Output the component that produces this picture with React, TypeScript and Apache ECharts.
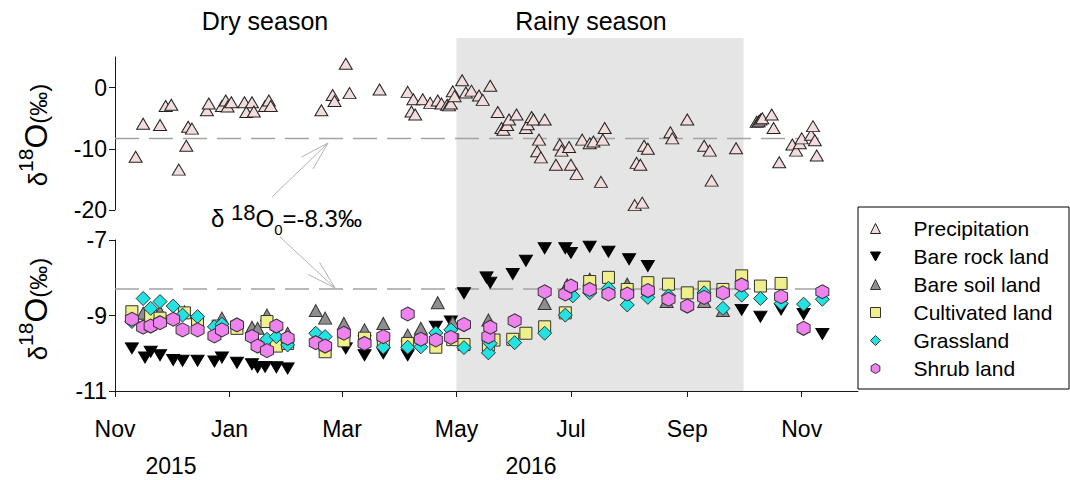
import { useEffect, useRef } from "react";
import * as echarts from "echarts";

const FONT = '"Liberation Sans", Arial, Helvetica, sans-serif';
const INK = "#1a1a1a";

type Obs = [string, number];

// δ18O of rainfall (‰)
const precipitation: Obs[] = [
  ["2015-11-12", -11.3], ["2015-11-16", -5.9], ["2015-11-25", -6.1], ["2015-11-28", -3.0],
  ["2015-12-01", -2.8], ["2015-12-05", -13.4], ["2015-12-09", -9.5], ["2015-12-10", -6.4],
  ["2015-12-12", -6.7], ["2015-12-20", -3.7], ["2015-12-21", -2.6], ["2015-12-28", -3.0],
  ["2015-12-30", -2.1], ["2015-12-31", -3.1], ["2016-01-02", -2.4], ["2016-01-09", -2.4],
  ["2016-01-10", -4.0], ["2016-01-13", -2.4], ["2016-01-14", -3.9], ["2016-01-20", -3.0],
  ["2016-01-22", -2.1], ["2016-01-23", -3.0], ["2016-02-19", -3.7], ["2016-02-25", -1.2],
  ["2016-02-26", -2.2], ["2016-03-03", 3.9], ["2016-03-05", -0.9], ["2016-03-21", -0.3],
  ["2016-04-05", -0.7], ["2016-04-07", -3.9], ["2016-04-08", -1.9], ["2016-04-09", -4.4],
  ["2016-04-13", -1.9], ["2016-04-17", -2.5], ["2016-04-21", -2.1], ["2016-04-23", -2.6],
  ["2016-04-26", -2.8], ["2016-04-27", -2.9], ["2016-04-28", -2.6], ["2016-04-29", -0.6],
  ["2016-04-30", -1.4], ["2016-05-04", 1.2], ["2016-05-06", -0.8], ["2016-05-09", -0.5],
  ["2016-05-13", -1.3], ["2016-05-15", -2.0], ["2016-05-19", 0.3], ["2016-05-23", -4.0],
  ["2016-05-25", -6.6], ["2016-05-26", -6.9], ["2016-05-28", -6.1], ["2016-05-29", -5.2],
  ["2016-06-02", -4.4], ["2016-06-07", -6.6], ["2016-06-08", -6.0], ["2016-06-10", -4.8],
  ["2016-06-11", -5.2], ["2016-06-13", -10.4], ["2016-06-14", -8.5], ["2016-06-15", -11.4],
  ["2016-06-17", -5.2], ["2016-06-23", -12.6], ["2016-06-25", -9.3], ["2016-06-26", -10.3],
  ["2016-06-30", -9.7], ["2016-07-01", -12.6], ["2016-07-04", -14.1], ["2016-07-07", -8.5],
  ["2016-07-11", -9.1], ["2016-07-13", -8.8], ["2016-07-17", -15.4], ["2016-07-18", -8.5],
  ["2016-07-19", -6.6], ["2016-08-04", -19.2], ["2016-08-05", -12.3], ["2016-08-07", -12.6],
  ["2016-08-08", -18.8], ["2016-08-09", -9.5], ["2016-08-11", -10.0], ["2016-08-23", -7.3],
  ["2016-08-24", -8.3], ["2016-09-01", -5.2], ["2016-09-10", -9.5], ["2016-09-13", -10.3],
  ["2016-09-14", -15.2], ["2016-09-27", -9.9], ["2016-10-08", -5.6], ["2016-10-09", -5.5],
  ["2016-10-10", -5.2], ["2016-10-11", -5.0], ["2016-10-16", -4.4], ["2016-10-17", -6.6],
  ["2016-10-20", -12.2], ["2016-10-27", -9.3], ["2016-10-29", -10.3], ["2016-10-31", -9.1],
  ["2016-11-01", -8.3], ["2016-11-06", -7.7], ["2016-11-07", -6.3], ["2016-11-08", -8.6],
  ["2016-11-09", -11.1],
];

// δ18O of soil water by land-use type (‰)
const bareRockLand: Obs[] = [
  ["2015-11-10", -9.87], ["2015-11-17", -10.11], ["2015-11-20", -9.96], ["2015-11-25", -10.05],
  ["2015-12-02", -10.18], ["2015-12-07", -10.2], ["2015-12-15", -10.2], ["2015-12-24", -10.22],
  ["2015-12-28", -10.11], ["2016-01-05", -10.25], ["2016-01-13", -10.29], ["2016-01-16", -10.37],
  ["2016-01-20", -10.36], ["2016-01-26", -10.37], ["2016-02-01", -10.4], ["2016-03-03", -9.87],
  ["2016-03-13", -10.05], ["2016-03-23", -10.0], ["2016-04-05", -10.05], ["2016-04-20", -9.3],
  ["2016-04-28", -9.16], ["2016-05-05", -8.41], ["2016-05-17", -7.99], ["2016-05-19", -8.13],
  ["2016-05-31", -7.9], ["2016-06-07", -7.55], ["2016-06-17", -7.22], ["2016-06-28", -7.22],
  ["2016-07-01", -7.34], ["2016-07-11", -7.18], ["2016-07-21", -7.31], ["2016-08-01", -7.51],
  ["2016-08-11", -7.69], ["2016-09-30", -8.85], ["2016-10-10", -9.03], ["2016-10-21", -8.84],
  ["2016-11-02", -8.96], ["2016-11-12", -9.49],
];

const bareSoilLand: Obs[] = [
  ["2015-11-16", -8.94], ["2015-11-25", -8.9], ["2015-12-08", -8.9], ["2015-12-28", -9.07],
  ["2016-01-13", -9.31], ["2016-01-16", -9.34], ["2016-01-21", -8.99], ["2016-02-01", -9.47],
  ["2016-02-16", -8.87], ["2016-02-21", -9.07], ["2016-03-02", -9.21], ["2016-03-13", -9.38],
  ["2016-03-23", -9.21], ["2016-04-05", -9.52], ["2016-04-12", -9.34], ["2016-04-21", -8.66],
  ["2016-04-29", -9.18], ["2016-05-18", -9.12], ["2016-06-17", -8.68], ["2016-06-29", -8.19],
  ["2016-07-11", -8.04], ["2016-07-21", -8.24], ["2016-07-31", -8.17], ["2016-08-21", -8.63],
  ["2016-09-10", -8.63], ["2016-09-20", -8.87],
];

const cultivatedLand: Obs[] = [
  ["2015-11-10", -8.9], ["2015-11-20", -9.01], ["2015-11-25", -9.07], ["2015-12-08", -8.93],
  ["2015-12-15", -9.16], ["2015-12-26", -9.28], ["2016-01-05", -9.34], ["2016-01-21", -9.16],
  ["2016-01-26", -9.81], ["2016-02-01", -9.74], ["2016-02-21", -9.96], ["2016-03-02", -9.67],
  ["2016-03-13", -9.6], ["2016-03-23", -9.69], ["2016-04-05", -9.74], ["2016-04-20", -9.84],
  ["2016-04-29", -9.64], ["2016-05-05", -9.77], ["2016-05-18", -9.78], ["2016-05-21", -9.65],
  ["2016-05-31", -9.63], ["2016-06-07", -9.47], ["2016-06-17", -9.3], ["2016-06-28", -8.93],
  ["2016-07-11", -8.1], ["2016-07-21", -7.99], ["2016-07-31", -8.31], ["2016-08-11", -8.13],
  ["2016-08-22", -8.17], ["2016-09-01", -8.4], ["2016-09-10", -8.25], ["2016-09-20", -8.31],
  ["2016-09-30", -7.95], ["2016-10-10", -8.22], ["2016-10-21", -8.15],
];

const grassland: Obs[] = [
  ["2015-11-10", -9.16], ["2015-11-16", -8.55], ["2015-11-20", -8.81], ["2015-11-25", -8.63],
  ["2015-12-02", -8.75], ["2015-12-07", -8.99], ["2015-12-15", -9.03], ["2015-12-24", -9.3],
  ["2015-12-28", -9.23], ["2016-01-21", -9.63], ["2016-01-26", -9.56], ["2016-02-01", -9.78],
  ["2016-02-16", -9.47], ["2016-02-21", -9.56], ["2016-03-23", -9.84], ["2016-04-05", -9.84],
  ["2016-04-12", -9.83], ["2016-04-20", -9.46], ["2016-04-28", -9.38], ["2016-05-05", -9.85],
  ["2016-05-18", -9.99], ["2016-05-19", -9.74], ["2016-06-01", -9.72], ["2016-06-17", -9.47],
  ["2016-06-28", -8.99], ["2016-07-02", -8.48], ["2016-07-11", -8.4], ["2016-07-21", -8.28],
  ["2016-07-31", -8.72], ["2016-08-11", -8.52], ["2016-08-22", -8.48], ["2016-09-10", -8.4],
  ["2016-09-20", -8.81], ["2016-09-30", -8.46], ["2016-10-10", -8.55], ["2016-10-21", -8.68],
  ["2016-11-02", -8.7], ["2016-11-12", -8.57],
];

const shrubLand: Obs[] = [
  ["2015-11-10", -9.1], ["2015-11-16", -9.31], ["2015-11-20", -9.28], ["2015-11-25", -9.19],
  ["2015-12-02", -9.1], ["2015-12-07", -9.38], ["2015-12-15", -9.38], ["2015-12-24", -9.54],
  ["2015-12-28", -9.38], ["2016-01-05", -9.25], ["2016-01-13", -9.56], ["2016-01-16", -9.81],
  ["2016-01-21", -9.93], ["2016-01-26", -9.28], ["2016-02-01", -9.6], ["2016-02-16", -9.72],
  ["2016-02-21", -9.81], ["2016-03-02", -9.47], ["2016-03-13", -9.74], ["2016-03-23", -9.56],
  ["2016-04-05", -8.96], ["2016-04-12", -9.63], ["2016-04-20", -9.65], ["2016-04-28", -9.58],
  ["2016-05-05", -9.24], ["2016-05-18", -9.56], ["2016-05-19", -9.31], ["2016-06-01", -9.14],
  ["2016-06-17", -8.37], ["2016-06-28", -8.43], ["2016-07-01", -8.22], ["2016-07-11", -8.31],
  ["2016-07-21", -8.43], ["2016-07-31", -8.43], ["2016-08-11", -8.34], ["2016-08-22", -8.57],
  ["2016-09-01", -8.75], ["2016-09-10", -8.52], ["2016-09-20", -8.4], ["2016-09-30", -8.19],
  ["2016-10-21", -8.5], ["2016-11-02", -9.34], ["2016-11-12", -8.37],
];

// Axis extents, ticks and reference values
const X_START = "2015-11-01";
const X_END = "2016-12-01";
const MONTH_TICKS = ["2015-11-01", "2016-01-01", "2016-03-01", "2016-05-01", "2016-07-01", "2016-09-01", "2016-11-01"];
const MONTH_NAMES = ["Jan", "Feb", "Mar", "Apr", "May", "Jun", "Jul", "Aug", "Sep", "Oct", "Nov", "Dec"];
const YEAR_LABELS = ["2015", "2016"];
const PRECIP_TICKS = [-20, -10, 0];
const SOIL_TICKS = [-11, -9, -7];
const RAINY_START = "2016-05-01";
const RAINY_END = "2016-10-01";
const DELTA0 = -8.3;
const DELTA0_LINE_END = "2016-11-14";

const utc = (s: string) => {
  const [y, m, d] = s.split("-").map(Number);
  return Date.UTC(y, m - 1, d);
};
const toPoints = (rows: Obs[]) => rows.map(([d, v]) => [utc(d), v]);

const DOWN_TRIANGLE = "path://M0,0L10,0L5,9Z";
const HEXAGON = "path://M5,0L9.33,2.5L9.33,7.5L5,10L0.67,7.5L0.67,2.5Z";

const seriesStyles = [
  { name: "Precipitation", rows: precipitation, panel: 0, symbol: "triangle", size: [13, 11], color: "#f3dcdc", border: "#222" },
  { name: "Bare rock land", rows: bareRockLand, panel: 1, symbol: DOWN_TRIANGLE, size: [13, 11], color: "#000000", border: "#000" },
  { name: "Bare soil land", rows: bareSoilLand, panel: 1, symbol: "triangle", size: [13, 12], color: "#8e8e8e", border: "#333" },
  { name: "Cultivated land", rows: cultivatedLand, panel: 1, symbol: "rect", size: [12, 12], color: "#efef8c", border: "#333" },
  { name: "Grassland", rows: grassland, panel: 1, symbol: "diamond", size: [14, 14], color: "#22e2e2", border: "#333" },
  { name: "Shrub land", rows: shrubLand, panel: 1, symbol: HEXAGON, size: [13, 14], color: "#ee82ee", border: "#333" },
];

// Text measuring for the hand-set super/subscript labels
let measureCtx: CanvasRenderingContext2D | null = null;
function textWidth(text: string, size: number) {
  if (!measureCtx) measureCtx = document.createElement("canvas").getContext("2d");
  if (!measureCtx) return text.length * size * 0.55;
  measureCtx.font = `${size}px ${FONT}`;
  return measureCtx.measureText(text).width;
}

type Part = { t: string; size: number; rise?: number };

// A run of text pieces sharing one baseline; rise lifts (or lowers) a piece.
function scriptedText(parts: Part[], x: number, y: number, rotation = 0) {
  const widths = parts.map((p) => textWidth(p.t, p.size));
  let cursor = 0;
  const children = parts.map((p, i) => {
    const child = {
      type: "text",
      x: cursor,
      y: -(p.rise ?? 0) - 0.3465 * p.size,
      silent: true,
      style: { text: p.t, align: "left", verticalAlign: "middle", fill: "#000", font: `${p.size}px ${FONT}` },
    };
    cursor += widths[i];
    return child;
  });
  return { type: "group", x, y, rotation, silent: true, children };
}

function arrow(x1: number, y1: number, x2: number, y2: number) {
  const back = Math.atan2(y1 - y2, x1 - x2);
  const len = 30;
  const spread = 0.28;
  const stroke = { stroke: "#b3b3b3", lineWidth: 1 };
  return [
    { type: "line", shape: { x1, y1, x2, y2 }, style: stroke, silent: true },
    {
      type: "polyline",
      shape: {
        points: [
          [x2 + len * Math.cos(back + spread), y2 + len * Math.sin(back + spread)],
          [x2, y2],
          [x2 + len * Math.cos(back - spread), y2 + len * Math.sin(back - spread)],
        ],
      },
      style: { ...stroke, fill: "none" },
      silent: true,
    },
  ];
}

const Y_TITLE: Part[] = [
  { t: "δ", size: 26 },
  { t: "18", size: 21, rise: 14 },
  { t: "O", size: 32 },
  { t: "(‰)", size: 24 },
];

const DELTA0_LABEL: Part[] = [
  { t: "δ ", size: 24 },
  { t: "18", size: 22, rise: 7 },
  { t: "O", size: 24 },
  { t: "0", size: 15, rise: -8 },
  { t: `=${DELTA0}‰`, size: 24 },
];

function buildOption() {
  const monthTicks = MONTH_TICKS.map(utc);
  const axisLine = { show: true, lineStyle: { color: INK, width: 1 } };
  // Dates are plotted as UTC millisecond timestamps on a numeric axis
  const dateBase = { type: "value", min: utc(X_START), max: utc(X_END), splitLine: { show: false } };
  const valueAxis = (grid: number, min: number, max: number, ticks: number[], interval: number) => ({
    type: "value",
    gridIndex: grid,
    min,
    max,
    interval,
    axisLine,
    axisTick: { show: true, inside: false, length: 6, customValues: ticks, lineStyle: { color: INK } },
    axisLabel: {
      customValues: ticks,
      fontSize: 23,
      margin: 8,
      color: "#000",
      fontFamily: FONT,
      formatter: (v: number) => (ticks.includes(v) ? String(v) : ""),
    },
    splitLine: { show: false },
  });

  const markerSeries = seriesStyles.map((s, i) => ({
    type: "scatter",
    name: s.name,
    xAxisIndex: s.panel,
    yAxisIndex: s.panel,
    data: toPoints(s.rows),
    symbol: s.symbol,
    symbolSize: s.size,
    itemStyle: { color: s.color, borderColor: s.border, borderWidth: 1, opacity: 1 },
    z: 3 + i,
    silent: true,
  }));

  const delta0Line = (panel: number) => ({
    type: "line",
    xAxisIndex: panel,
    yAxisIndex: panel,
    data: [[utc(X_START), DELTA0], [utc(DELTA0_LINE_END), DELTA0]],
    symbol: "none",
    lineStyle: { color: "#a3a3a3", width: 1.5, type: [24, 10] },
    z: 2,
    silent: true,
  });

  const yearCentres = [171, 531];
  const titleLen = Y_TITLE.reduce((a, p) => a + textWidth(p.t, p.size), 0);

  return {
    animation: false,
    textStyle: { fontFamily: FONT },
    grid: [
      { left: 115, right: 212, top: 57, height: 153 },
      { left: 115, right: 212, top: 240, height: 151 },
      { left: 115, right: 212, top: 38, bottom: 89 },
    ],
    xAxis: [
      { ...dateBase, gridIndex: 0, show: false },
      {
        ...dateBase,
        gridIndex: 1,
        z: 5,
        axisLine,
        axisTick: { show: true, inside: false, length: 6, customValues: monthTicks, lineStyle: { color: INK } },
        axisLabel: {
          customValues: monthTicks,
          fontSize: 23,
          margin: 26,
          color: "#000",
          fontFamily: FONT,
          formatter: (v: number) => MONTH_NAMES[new Date(v).getUTCMonth()],
        },
      },
      { ...dateBase, gridIndex: 2, show: false },
    ],
    yAxis: [
      valueAxis(0, -20, 5, PRECIP_TICKS, 10),
      valueAxis(1, -11, -7, SOIL_TICKS, 2),
      { type: "value", gridIndex: 2, min: 0, max: 1, show: false },
    ],
    legend: {
      orient: "vertical",
      left: 870,
      top: 218,
      padding: 0,
      itemGap: 7,
      itemWidth: 10,
      itemHeight: 10,
      selectedMode: false,
      textStyle: { fontSize: 21, lineHeight: 21, color: "#000", fontFamily: FONT, padding: [0, 0, 0, 28] },
      data: seriesStyles.map((s) => ({
        name: s.name,
        icon: s.symbol,
        itemStyle: { color: s.color, borderColor: s.border, borderWidth: 1 },
      })),
      z: 10,
    },
    series: [
      {
        type: "line",
        name: "rainy-season-band",
        xAxisIndex: 2,
        yAxisIndex: 2,
        data: [],
        z: 0,
        silent: true,
        markArea: {
          silent: true,
          itemStyle: { color: "#e5e5e5", opacity: 1 },
          data: [[{ xAxis: utc(RAINY_START) }, { xAxis: utc(RAINY_END) }]],
        },
      },
      delta0Line(0),
      delta0Line(1),
      ...markerSeries,
    ],
    graphic: [
      { type: "rect", shape: { x: 858, y: 207, width: 211, height: 182 }, style: { fill: "#fff", stroke: "#000", lineWidth: 1 }, z: 1, silent: true },
      { type: "text", x: 265, y: 21, silent: true, style: { text: "Dry season", align: "center", verticalAlign: "middle", fill: "#000", font: `25px ${FONT}` } },
      { type: "text", x: 591, y: 21, silent: true, style: { text: "Rainy season", align: "center", verticalAlign: "middle", fill: "#000", font: `25px ${FONT}` } },
      ...YEAR_LABELS.map((t, i) => ({
        type: "text",
        x: yearCentres[i],
        y: 466,
        silent: true,
        style: { text: t, align: "center", verticalAlign: "middle", fill: "#000", font: `23px ${FONT}` },
      })),
      scriptedText(Y_TITLE, 47, 135 + titleLen / 2, Math.PI / 2),
      scriptedText(Y_TITLE, 47, 309 + titleLen / 2, Math.PI / 2),
      scriptedText(DELTA0_LABEL, 211, 227),
      ...arrow(272, 197, 328, 143),
      ...arrow(280, 237, 335, 288),
    ],
  };
}

export default function App() {
  const ref = useRef<HTMLDivElement>(null);
  useEffect(() => {
    const el = ref.current;
    if (!el) return;
    const chart = echarts.init(el, null, { renderer: "svg" });
    chart.setOption(buildOption() as any);
    return () => chart.dispose();
  }, []);
  return (
    <div
      ref={ref}
      style={{ position: "fixed", left: 0, top: 0, width: 1070, height: 480, background: "#fff" }}
    />
  );
}
